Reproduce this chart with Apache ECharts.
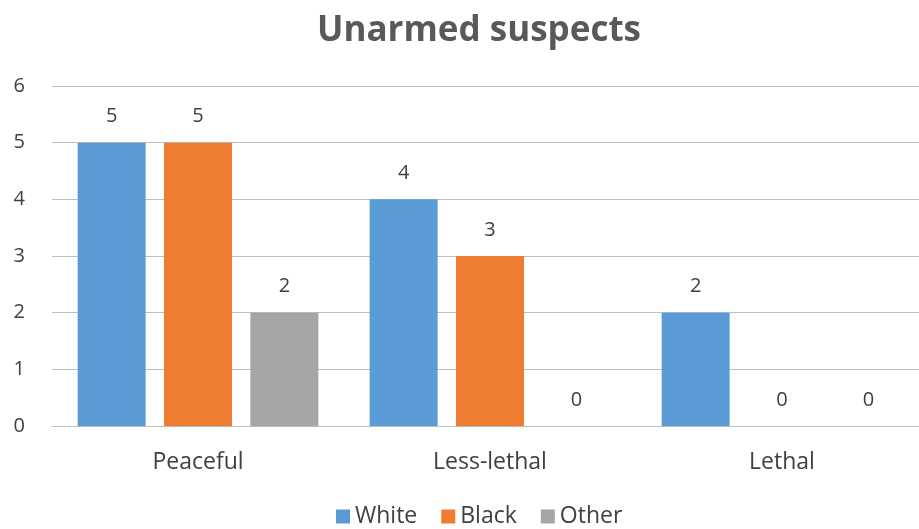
<!DOCTYPE html>
<html>
<head>
<meta charset="utf-8">
<script src="https://cdn.jsdelivr.net/npm/echarts@6/dist/echarts.min.js"></script>
<style>
  html, body { margin: 0; padding: 0; background: #fff; }
  #chart { width: 919px; height: 529px; }
</style>
</head>
<body>
<div id="chart"></div>
<script>
// Use-of-force level categories and counts per group
const categories = ['Peaceful', 'Less-lethal', 'Lethal'];
const whiteValues = [5, 4, 2];
const blackValues = [5, 3, 0];
const otherValues = [2, 0, 0];
const yTicks = [0, 1, 2, 3, 4, 5, 6];

const FONT = '"Open Sans", "Liberation Sans", sans-serif';
const TEXT = '#595959';

const chart = echarts.init(document.getElementById('chart'));

function barSeries(name, data, color) {
  return {
    name: name,
    type: 'bar',
    data: data,
    barWidth: 68,
    barGap: '27%',
    itemStyle: { color: color },
    label: {
      show: true,
      position: 'top',
      distance: 16,
      color: '#404040',
      fontFamily: FONT,
      fontSize: 20
    }
  };
}

chart.setOption({
  backgroundColor: '#fff',
  animation: false,
  title: {
    text: 'Unarmed suspects',
    left: 474,
    textAlign: 'center',
    top: 9,
    textStyle: { color: TEXT, fontFamily: FONT, fontWeight: 'bold', fontSize: 35 }
  },
  legend: {
    bottom: -4,
    left: 331,
    itemWidth: 14,
    itemHeight: 14,
    itemGap: 24,
    icon: 'rect',
    textStyle: { color: '#404040', fontFamily: FONT, fontSize: 23 },
    data: ['White', 'Black', 'Other']
  },
  grid: {
    left: 52, width: 876, top: 86, bottom: 103,
    containLabel: false, outerBoundsMode: 'none'
  },
  xAxis: {
    type: 'category',
    data: categories,
    axisLine: { show: true, lineStyle: { color: '#bfbfbf', width: 1 } },
    axisTick: { show: false },
    axisLabel: { color: '#404040', fontFamily: FONT, fontSize: 23, margin: 25 }
  },
  yAxis: {
    type: 'value',
    min: yTicks[0],
    max: yTicks[yTicks.length - 1],
    interval: 1,
    axisLine: { show: false },
    axisTick: { show: false },
    axisLabel: { color: '#404040', fontFamily: FONT, fontSize: 20, margin: 27 },
    splitLine: { lineStyle: { color: '#bfbfbf', width: 1 } }
  },
  series: [
    barSeries('White', whiteValues, '#5b9bd5'),
    barSeries('Black', blackValues, '#ed7d31'),
    barSeries('Other', otherValues, '#a5a5a5')
  ]
});
</script>
</body>
</html>
